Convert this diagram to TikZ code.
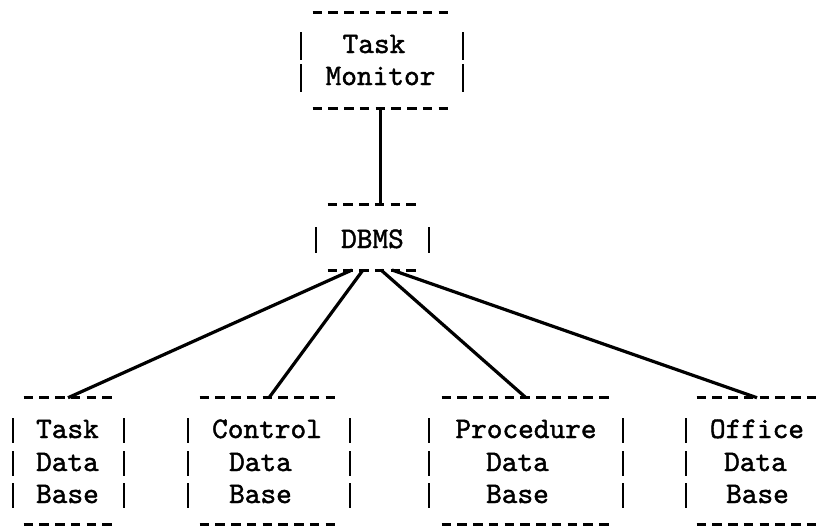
\documentclass[tikz,border=0pt]{standalone}
\usepackage{fontspec}
\newfontfamily\twfont{lmmono10-regular.otf}[FakeBold=1.4]
\usetikzlibrary{fit}
\begin{document}
\begin{tikzpicture}[x=0.75pt,y=-0.75pt,
  boxframe/.style={inner sep=0pt, draw=none},
  dashrule/.style={line width=2.2pt, dash pattern=on 7.1pt off 4.7pt},
  bar/.style={line width=1.9pt},
  conn/.style={line width=2.4pt},
  lbl/.style={anchor=base, inner sep=0pt, font=\fontsize{22.4}{27}\selectfont\twfont}]
\useasboundingbox (0,0) rectangle (820,529);

% box frames (extent of the dashed rules)
\node[boxframe, fit={(313,13) (448,108)}] (tm) {};
\node[boxframe, fit={(328,205) (418,270)}] (db) {};
\node[boxframe, fit={(24,398) (112,524)}] (tdb) {};
\node[boxframe, fit={(200,398) (338,524)}] (cdb) {};
\node[boxframe, fit={(442,398) (610,524)}] (pdb) {};
\node[boxframe, fit={(697,398) (817,524)}] (odb) {};

% dashed rules
\foreach \b in {tm,db,tdb,cdb,pdb,odb}{
  \draw[dashrule] (\b.north west) -- (\b.north east);
  \draw[dashrule] (\b.south west) -- (\b.south east);
}

% vertical bars
\foreach \y in {53,85}{
  \draw[bar] (301,{\y-21}) -- (301,{\y+7});
  \draw[bar] (463,{\y-21}) -- (463,{\y+7});
}
\draw[bar] (316,227) -- (316,253);
\draw[bar] (429,227) -- (429,253);
\foreach \y in {438,471,503}{
  \draw[bar] (13,{\y-20}) -- (13,{\y+5});
  \draw[bar] (124,{\y-20}) -- (124,{\y+5});
  \draw[bar] (188,{\y-20}) -- (188,{\y+5});
  \draw[bar] (350,{\y-20}) -- (350,{\y+5});
  \draw[bar] (429,{\y-20}) -- (429,{\y+5});
  \draw[bar] (623,{\y-20}) -- (623,{\y+5});
  \draw[bar] (686,{\y-20}) -- (686,{\y+5});
}

% texts
\node[lbl] (tm1) at (374,53) {Task};
\node[lbl] (tm2) at (380.5,85) {Monitor};
\node[lbl] (db1) at (372.5,248) {DBMS};
\node[lbl] (tdb1) at (67.5,438) {Task};
\node[lbl] (tdb2) at (67.5,471) {Data};
\node[lbl] (tdb3) at (67.5,503) {Base};
\node[lbl] (cdb1) at (267,438) {Control};
\node[lbl] (cdb2) at (260.5,471) {Data};
\node[lbl] (cdb3) at (260.5,503) {Base};
\node[lbl] (pdb1) at (526,438) {Procedure};
\node[lbl] (pdb2) at (517.5,471) {Data};
\node[lbl] (pdb3) at (517.5,503) {Base};
\node[lbl] (odb1) at (757,438) {Office};
\node[lbl] (odb2) at (755.5,471) {Data};
\node[lbl] (odb3) at (757.5,503) {Base};

% connectors
\coordinate (d1) at (352,270);
\coordinate (d2) at (363,270);
\coordinate (d3) at (381,270);
\coordinate (d4) at (392,270);
\draw[conn] (tm.south) -- (tm.south |- db.north);
\draw[conn] (d1) -- (tdb.north);
\draw[conn] (d2) -- (cdb.north);
\draw[conn] (d3) -- (pdb.north);
\draw[conn] (d4) -- (odb.north);
\end{tikzpicture}
\end{document}
